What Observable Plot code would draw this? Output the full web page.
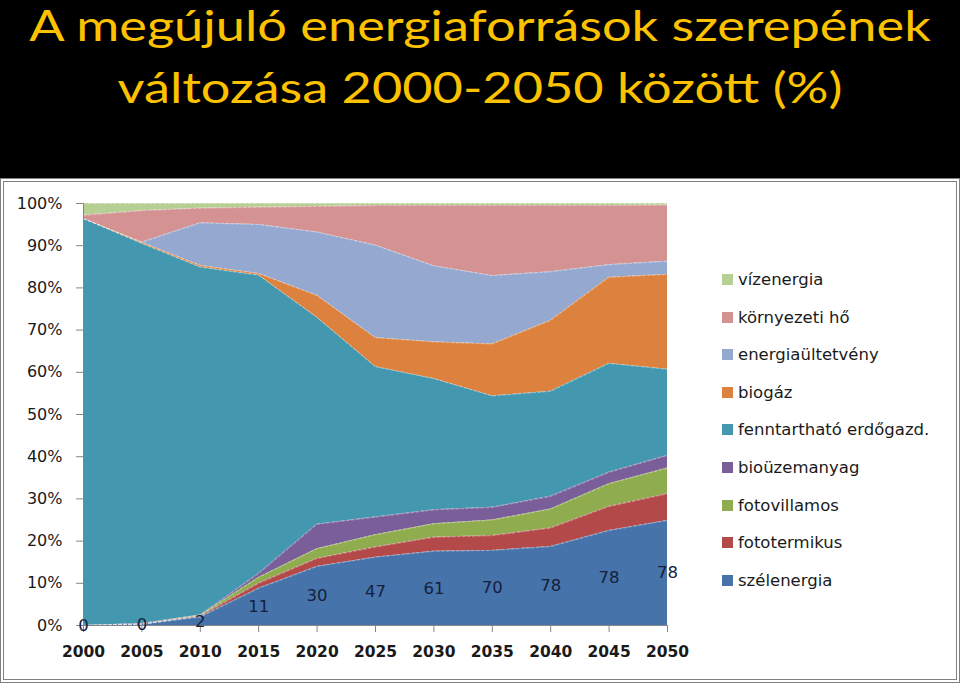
<!DOCTYPE html>
<html><head><meta charset="utf-8">
<script src="https://cdn.jsdelivr.net/npm/d3@7"></script>
<script src="https://cdn.jsdelivr.net/npm/@observablehq/plot@0.6"></script>
<style>
html,body{margin:0;padding:0;background:#000;width:960px;height:683px;overflow:hidden;}
.tl{position:absolute;left:0;width:960px;text-align:center;color:#fcc200;font-family:Lato,sans-serif;font-size:42px;line-height:normal;white-space:nowrap;transform:scaleX(1.245);transform-origin:480px 0;}
#panel{position:absolute;left:0;top:178px;width:960px;height:505px;box-sizing:border-box;border:4px double #808080;background:#fff;}
#chart{position:absolute;left:0;top:0;}
#legend{position:absolute;left:0;top:0;}
.item{position:absolute;display:flex;align-items:center;font-family:"DejaVu Sans",sans-serif;font-size:16.5px;color:#1a1a1a;height:20px;white-space:nowrap;}
.sw{width:11px;height:11px;margin-right:5px;flex:none;}
</style></head><body>
<div class="tl" style="top:0px">A megújuló energiaforrások szerepének</div>
<div class="tl" style="top:62px">változása 2000-2050 között (%)</div>
<div id="panel"><div id="chart"></div><div id="legend"></div></div>
<script>
const years = [2000, 2005, 2010, 2015, 2020, 2025, 2030, 2035, 2040, 2045, 2050];
const yTicks = [0, 10, 20, 30, 40, 50, 60, 70, 80, 90, 100];
// stacking order: bottom to top
const seriesNames = ["szélenergia", "fototermikus", "fotovillamos", "bioüzemanyag", "fenntartható erdőgazd.", "biogáz", "energiaültetvény", "környezeti hő", "vízenergia"];
const seriesColors = ["#4673aa", "#b4494a", "#8fac4e", "#7a5e9a", "#4398b0", "#dc823e", "#94a8d0", "#d49392", "#b6d094"];
const szelenergia   = [0, 0.3, 2.0, 8.8, 14.0, 16.2, 17.6, 17.8, 18.7, 22.5, 24.9];
const fototermikus  = [0, 0, 0.2, 1.2, 1.9, 2.4, 3.3, 3.5, 4.4, 5.7, 6.3];
const fotovillamos  = [0, 0, 0.2, 1.4, 2.3, 2.9, 3.2, 3.7, 4.5, 5.4, 6.1];
const biouzemanyag  = [0, 0.2, 0.1, 0.9, 5.8, 4.2, 3.3, 3.0, 3.0, 2.7, 3.0];
const erdogazd      = [96.4, 90.0, 82.4, 70.7, 49.0, 35.6, 31.1, 26.4, 24.9, 25.8, 20.4];
const biogaz        = [0, 0.3, 0.4, 0.4, 5.2, 6.9, 8.7, 12.3, 16.8, 20.4, 22.5];
const energiaultetveny = [0, 0, 10.1, 11.6, 15.0, 21.9, 18.0, 16.2, 11.5, 3.0, 3.1];
const kornyezetiHo  = [0.8, 7.5, 3.5, 4.1, 6.1, 9.4, 14.3, 16.6, 15.7, 14.0, 13.3];
const vizenergia    = [2.8, 1.7, 1.1, 0.9, 0.7, 0.5, 0.5, 0.5, 0.5, 0.5, 0.4];
const windLabels = [0, 0, 2, 11, 30, 47, 61, 70, 78, 78, 78];

const seriesValues = [szelenergia, fototermikus, fotovillamos, biouzemanyag, erdogazd, biogaz, energiaultetveny, kornyezetiHo, vizenergia];
const rows = [];
seriesNames.forEach((s, i) => years.forEach((y, j) => rows.push({series: s, year: y, value: seriesValues[i][j]})));
const labelRows = years.map((y, j) => ({year: y, mid: szelenergia[j] / 2, label: String(windLabels[j])}));

const plot = Plot.plot({
  width: 700, height: 497,
  marginLeft: 79, marginTop: 21, marginRight: 37, marginBottom: 54,
  style: {fontFamily: "DejaVu Sans, sans-serif", fontSize: "16px", color: "#1a1a1a", background: "transparent", overflow: "visible"},
  x: {domain: [2000, 2050], label: null},
  y: {domain: [0, 100], label: null},
  color: {domain: seriesNames, range: seriesColors},
  marks: [
    Plot.areaY(rows, {x: "year", y: "value", z: "series", fill: "series"}),
    Plot.lineY(rows, Plot.stackY2({x: "year", y: "value", z: "series", stroke: "#ffffff", strokeOpacity: 0.5, strokeWidth: 0.8, strokeDasharray: "3 2"})),
    Plot.ruleX([2000], {stroke: "#868686"}),
    Plot.ruleY([0], {stroke: "#868686"}),
    Plot.axisX({ticks: years, tickFormat: d => String(d), tickSize: 7, tickPadding: 13, fontSize: 15.5, fontWeight: "bold", stroke: "#868686", fill: "#1a1a1a", label: null}),
    Plot.axisY({ticks: yTicks, tickFormat: d => d + "%", tickSize: 7, tickPadding: 14, fontSize: 16, stroke: "#868686", fill: "#1a1a1a", label: null}),
    Plot.text(labelRows, {x: "year", y: "mid", text: "label", fill: "#14213d", fontSize: 16.5})
  ]
});
document.getElementById("chart").appendChild(plot);

const legend = document.getElementById("legend");
const legendNames = seriesNames.slice().reverse();
const legendColors = seriesColors.slice().reverse();
legendNames.forEach((n, i) => {
  const cy = 279.5 + i * 37.6 - 182;
  const d = document.createElement("div");
  d.className = "item";
  d.style.left = (722 - 4) + "px";
  d.style.top = (cy - 10) + "px";
  d.innerHTML = `<span class="sw" style="background:${legendColors[i]}"></span><span>${n}</span>`;
  legend.appendChild(d);
});
</script>
</body></html>
